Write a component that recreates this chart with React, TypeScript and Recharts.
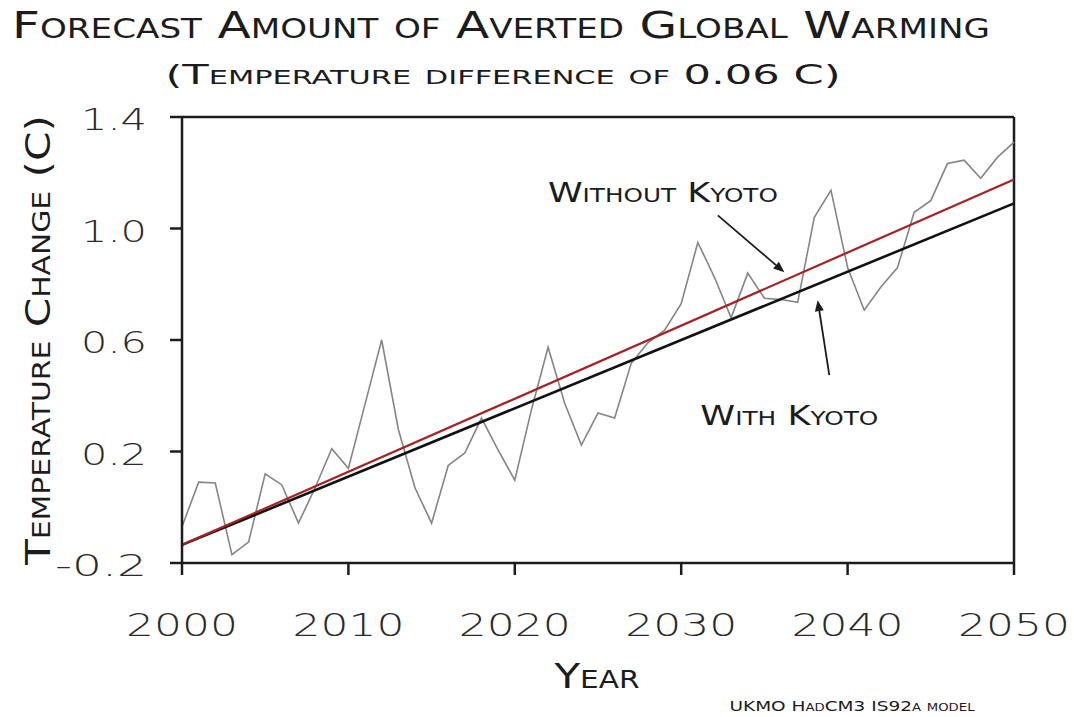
import React from 'react';
import {
    LineChart, Line, XAxis, YAxis, ReferenceLine, ReferenceDot,
} from 'recharts';

// model years and the noisy model run (deg C)
const years = [
    2000, 2001, 2002, 2003, 2004, 2005, 2006, 2007, 2008, 2009,
    2010, 2011, 2012, 2013, 2014, 2015, 2016, 2017, 2018, 2019,
    2020, 2021, 2022, 2023, 2024, 2025, 2026, 2027, 2028, 2029,
    2030, 2031, 2032, 2033, 2034, 2035, 2036, 2037, 2038, 2039,
    2040, 2041, 2042, 2043, 2044, 2045, 2046, 2047, 2048, 2049, 2050,
];
const modelRun = [
    -0.07, 0.09, 0.087, -0.17, -0.125, 0.12, 0.08, -0.057, 0.07, 0.21,
    0.14, 0.37, 0.6, 0.28, 0.07, -0.057, 0.15, 0.195, 0.32, 0.205,
    0.097, 0.35, 0.574, 0.373, 0.223, 0.338, 0.32, 0.517, 0.59, 0.635,
    0.73, 0.95, 0.825, 0.68, 0.84, 0.75, 0.745, 0.735, 1.04, 1.137,
    0.86, 0.707, 0.79, 0.86, 1.058, 1.1, 1.233, 1.245, 1.18, 1.255, 1.31,
];

// straight trend lines, end points only
const trendYears = [2000, 2050];
const withoutKyoto = [-0.135, 1.176];
const withKyoto = [-0.135, 1.09];

const xTicks = [2000, 2010, 2020, 2030, 2040, 2050];
const yTicks = [-0.2, 0.2, 0.6, 1.0, 1.4];

const data = years.map((year, i) => {
    const t = trendYears.indexOf(year);
    return {
        year,
        model: modelRun[i],
        without: t >= 0 ? withoutKyoto[t] : undefined,
        with: t >= 0 ? withKyoto[t] : undefined,
    };
});

const FONT = '"DejaVu Sans", sans-serif';
const INK = '#1c1c1c';

const XTick = ({ x, y, payload }: any) => (
    <text x={x} y={y + 61} textAnchor="middle" fontFamily={FONT} fontSize={32}
        fontWeight={300} fill="#2a2a2a" textLength={112} lengthAdjust="spacingAndGlyphs">
        {payload.value}
    </text>
);

const YTick = ({ x, y, payload }: any) => {
    const label = payload.value.toFixed(1);
    return (
        <text x={x - 23} y={y + 13} textAnchor="end" fontFamily={FONT} fontSize={31}
            fontWeight={300} fill="#2a2a2a" textLength={label.length > 3 ? 92 : 66}
            lengthAdjust="spacingAndGlyphs">
            {label}
        </text>
    );
};

const Arrow = (props: any) => {
    const { x1, y1, x2, y2 } = props;
    const a = Math.atan2(y2 - y1, x2 - x1);
    const len = 11;
    const w = 4.5;
    const bx = x2 - len * Math.cos(a);
    const by = y2 - len * Math.sin(a);
    const px = -Math.sin(a) * w;
    const py = Math.cos(a) * w;
    return (
        <g>
            <line x1={x1} y1={y1} x2={bx} y2={by} stroke={INK} strokeWidth={1.8} />
            <polygon points={`${x2},${y2} ${bx + px},${by + py} ${bx - px},${by - py}`} fill={INK} />
        </g>
    );
};

const note = (text: string, width: number) => (p: any) => (
    <text x={p.cx} y={p.cy + 10} textAnchor="middle" fontFamily={FONT} fontSize={27}
        fill={INK} style={{ fontVariant: 'small-caps' }} textLength={width}
        lengthAdjust="spacingAndGlyphs">
        {text}
    </text>
);

const App: React.FC = () => (
    <div style={{ position: 'absolute', left: 0, top: 0, width: 1074, height: 717, background: '#fff' }}>
        <LineChart width={1074} height={717} data={data}
            margin={{ top: 117, right: 60, bottom: 44, left: 82 }}>
            <XAxis dataKey="year" type="number" domain={[2000, 2050]} ticks={xTicks}
                height={110} tickSize={12} tickMargin={0} tick={<XTick />}
                axisLine={{ stroke: INK, strokeWidth: 2.5 }}
                tickLine={{ stroke: INK, strokeWidth: 2.5 }} />
            <YAxis type="number" domain={[-0.2, 1.4]} ticks={yTicks} width={100}
                tickSize={12} tickMargin={0} tick={<YTick />}
                axisLine={{ stroke: INK, strokeWidth: 2.5 }}
                tickLine={{ stroke: INK, strokeWidth: 2.5 }} />
            <ReferenceLine y={1.4} stroke={INK} strokeWidth={2.5} />
            <ReferenceLine x={2050} stroke={INK} strokeWidth={2.5} />
            <Line dataKey="model" stroke="#858585" strokeWidth={1.6} dot={false}
                isAnimationActive={false} />
            <Line dataKey="with" stroke="#111111" strokeWidth={2.6} dot={false}
                connectNulls isAnimationActive={false} />
            <Line dataKey="without" stroke="#a52222" strokeWidth={2.2} dot={false}
                connectNulls isAnimationActive={false} />
            <ReferenceLine segment={[{ x: 2032.2, y: 1.047 }, { x: 2036.2, y: 0.843 }]}
                shape={Arrow} />
            <ReferenceLine segment={[{ x: 2038.9, y: 0.474 }, { x: 2038.2, y: 0.743 }]}
                shape={Arrow} />
            <ReferenceDot x={2028.9} y={1.13} r={0} shape={note('Without Kyoto', 230)} />
            <ReferenceDot x={2036.5} y={0.33} r={0} shape={note('With Kyoto', 178)} />
        </LineChart>
        <svg width={1074} height={717}
            style={{ position: 'absolute', left: 0, top: 0, pointerEvents: 'none' }}>
            <g fontFamily={FONT} fill={INK} style={{ fontVariant: 'small-caps' }}>
                <text x={501} y={38} textAnchor="middle" fontSize={37} textLength={978}
                    lengthAdjust="spacingAndGlyphs">
                    Forecast Amount of Averted Global Warming
                </text>
                <text x={503} y={84} textAnchor="middle" fontSize={27} textLength={675}
                    lengthAdjust="spacingAndGlyphs">
                    (Temperature difference of 0.06 C)
                </text>
                <text x={597} y={688} textAnchor="middle" fontSize={34} textLength={85}
                    lengthAdjust="spacingAndGlyphs">
                    Year
                </text>
                <text x={50} y={340} textAnchor="middle" fontSize={34} textLength={450}
                    lengthAdjust="spacingAndGlyphs" transform="rotate(-90 50 340)">
                    Temperature Change (C)
                </text>
                <text x={852} y={711} textAnchor="middle" fontSize={14} textLength={245}
                    lengthAdjust="spacingAndGlyphs">
                    UKMO HadCM3 IS92a model
                </text>
            </g>
        </svg>
    </div>
);

export default App;
